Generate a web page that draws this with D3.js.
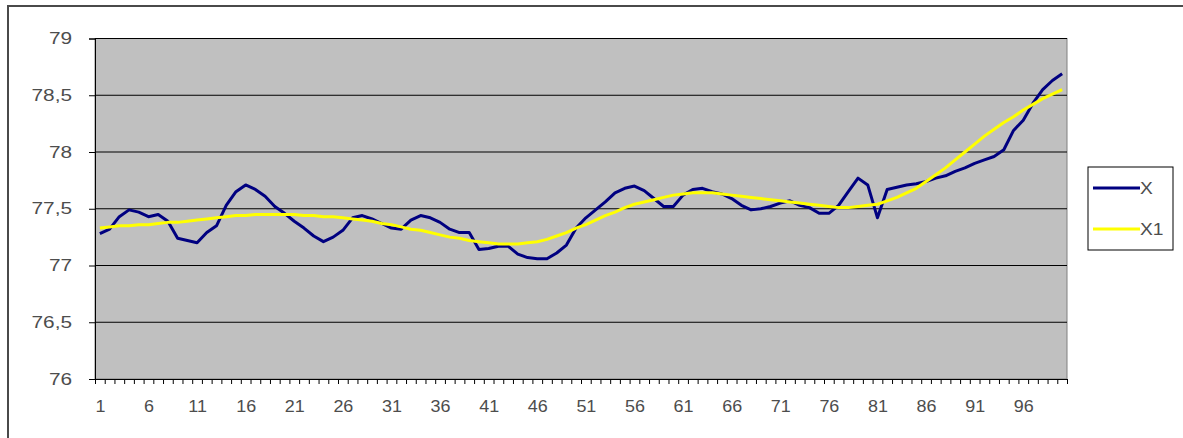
<!DOCTYPE html>
<html>
<head>
<meta charset="utf-8">
<script src="https://cdn.jsdelivr.net/npm/d3@7"></script>
<style>
  html, body { margin: 0; padding: 0; background: #fff; }
  svg { display: block; }
  text { font-family: "Liberation Sans", Arial, sans-serif; }
</style>
</head>
<body>
<svg id="chart" width="1183" height="438"></svg>
<script>
// Observation index 1..100
const categories = d3.range(1, 101);

// Raw series X
const seriesX = [
  77.28, 77.32, 77.43, 77.49, 77.47, 77.43, 77.45, 77.39, 77.24, 77.22,
  77.20, 77.29, 77.35, 77.53, 77.65, 77.71, 77.67, 77.61, 77.52, 77.46,
  77.39, 77.33, 77.26, 77.21, 77.25, 77.31, 77.42, 77.44, 77.41, 77.37,
  77.33, 77.32, 77.40, 77.44, 77.42, 77.38, 77.32, 77.29, 77.29, 77.14,
  77.15, 77.17, 77.17, 77.10, 77.07, 77.06, 77.06, 77.11, 77.18, 77.33,
  77.42, 77.49, 77.56, 77.64, 77.68, 77.70, 77.66, 77.59, 77.52, 77.52,
  77.62, 77.67, 77.68, 77.65, 77.63, 77.59, 77.53, 77.49, 77.50, 77.52,
  77.55, 77.57, 77.53, 77.51, 77.46, 77.46, 77.53, 77.65, 77.77, 77.71,
  77.42, 77.67, 77.69, 77.71, 77.72, 77.74, 77.77, 77.79, 77.83, 77.86,
  77.90, 77.93, 77.96, 78.02, 78.19, 78.28, 78.43, 78.55, 78.63, 78.69
];

// Smoothed series X1
const seriesX1 = [
  77.33, 77.34, 77.35, 77.35, 77.36, 77.36, 77.37, 77.38, 77.38, 77.39,
  77.40, 77.41, 77.42, 77.43, 77.44, 77.44, 77.45, 77.45, 77.45, 77.45,
  77.45, 77.44, 77.44, 77.43, 77.43, 77.42, 77.41, 77.40, 77.39, 77.37,
  77.36, 77.34, 77.32, 77.31, 77.29, 77.27, 77.25, 77.24, 77.22, 77.21,
  77.20, 77.19, 77.19, 77.19, 77.20, 77.21, 77.23, 77.26, 77.29, 77.33,
  77.36, 77.40, 77.44, 77.47, 77.51, 77.54, 77.56, 77.58, 77.60, 77.62,
  77.63, 77.64, 77.64, 77.64, 77.63, 77.62, 77.61, 77.60, 77.59, 77.58,
  77.57, 77.56, 77.55, 77.54, 77.53, 77.52, 77.51, 77.51, 77.52, 77.53,
  77.54, 77.57, 77.60, 77.64, 77.68, 77.74, 77.80, 77.86, 77.93, 78.00,
  78.07, 78.14, 78.20, 78.26, 78.31, 78.37, 78.42, 78.47, 78.51, 78.55
];

const yTicks = [76, 76.5, 77, 77.5, 78, 78.5, 79];
const xLabels = d3.range(1, 100, 5);
const seriesNames = ["X", "X1"];
const seriesColors = ["#000080", "#FFFF00"];

const FONT = "'Liberation Sans', Arial, sans-serif";
const TEXT_COLOR = "#4d4d4d";

// Widen label glyphs horizontally (the chart uses a broad sans face)
function widen(sel, factor) {
  sel.each(function () {
    const w = this.getComputedTextLength();
    d3.select(this)
      .attr("textLength", w * factor)
      .attr("lengthAdjust", "spacingAndGlyphs");
  });
}

const svg = d3.select("#chart");

// Outer chart frame
svg.append("rect")
  .attr("x", 8).attr("y", 6)
  .attr("width", 1190).attr("height", 440)
  .attr("fill", "#fff")
  .attr("stroke", "#4a4a4a")
  .attr("stroke-width", 2);

const plot = { left: 95, right: 1067, top: 38.5, bottom: 379 };

const x = d3.scaleLinear()
  .domain([0.5, categories.length + 0.5])
  .range([plot.left, plot.right]);

const y = d3.scaleLinear()
  .domain([76, 79])
  .range([plot.bottom, plot.top]);

// Plot background
svg.append("rect")
  .attr("x", plot.left).attr("y", plot.top)
  .attr("width", plot.right - plot.left)
  .attr("height", plot.bottom - plot.top)
  .attr("fill", "#C0C0C0")
  .attr("stroke", "#808080")
  .attr("stroke-width", 1);

// Horizontal gridlines
svg.append("g")
  .selectAll("line")
  .data(yTicks.slice(1))
  .join("line")
  .attr("x1", plot.left).attr("x2", plot.right)
  .attr("y1", d => y(d)).attr("y2", d => y(d))
  .attr("stroke", "#000")
  .attr("stroke-width", 1);

// Y axis
const yAxis = svg.append("g")
  .attr("transform", `translate(${plot.left},0)`)
  .call(d3.axisLeft(y)
    .tickValues(yTicks)
    .tickSize(6)
    .tickPadding(17)
    .tickFormat(d => String(d).replace(".", ",")));
yAxis.select(".domain").attr("stroke", "#000");
yAxis.selectAll(".tick line").attr("stroke", "#000");
yAxis.selectAll("text")
  .attr("font-size", 16)
  .attr("fill", TEXT_COLOR)
  .style("font-family", FONT)
  .call(widen, 1.3);

// X axis: tick marks between categories
const xTickAxis = svg.append("g")
  .attr("transform", `translate(0,${plot.bottom})`)
  .call(d3.axisBottom(x)
    .tickValues(d3.range(0, categories.length + 1).map(i => i + 0.5))
    .tickSize(5)
    .tickFormat(""));
xTickAxis.select(".domain").attr("stroke", "#000");
xTickAxis.selectAll(".tick line").attr("stroke", "#000");

// X axis labels every 5th category
const xLabelAxis = svg.append("g")
  .attr("transform", `translate(0,${plot.bottom})`)
  .call(d3.axisBottom(x)
    .tickValues(xLabels)
    .tickSize(0)
    .tickPadding(22)
    .tickFormat(d3.format("d")));
xLabelAxis.select(".domain").remove();
xLabelAxis.selectAll("text")
  .attr("font-size", 16)
  .attr("fill", TEXT_COLOR)
  .style("font-family", FONT)
  .call(widen, 1.12);

// Series lines
const line = d3.line()
  .x((d, i) => x(categories[i]))
  .y(d => y(d));

[seriesX, seriesX1].forEach((s, k) => {
  svg.append("path")
    .datum(s)
    .attr("fill", "none")
    .attr("stroke", seriesColors[k])
    .attr("stroke-width", 3)
    .attr("stroke-linejoin", "round")
    .attr("d", line);
});

// Legend
const legend = svg.append("g").attr("transform", "translate(1088,167)");
legend.append("rect")
  .attr("width", 85).attr("height", 83)
  .attr("fill", "#fff")
  .attr("stroke", "#000")
  .attr("stroke-width", 1);
seriesNames.forEach((name, k) => {
  const ly = 21 + k * 41;
  legend.append("line")
    .attr("x1", 5).attr("x2", 52)
    .attr("y1", ly).attr("y2", ly)
    .attr("stroke", seriesColors[k])
    .attr("stroke-width", 3);
  legend.append("text")
    .attr("x", 52).attr("y", ly)
    .attr("dy", "0.35em")
    .attr("font-size", 16)
    .attr("fill", TEXT_COLOR)
    .style("font-family", FONT)
    .text(name)
    .call(widen, 1.2);
});
</script>
</body>
</html>
